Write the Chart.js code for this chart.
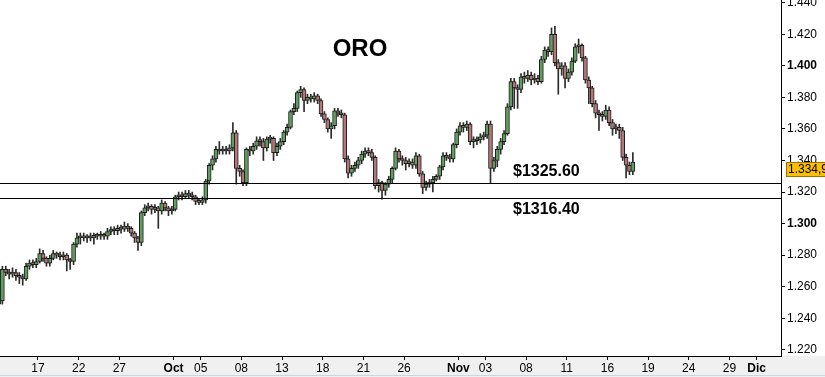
<!DOCTYPE html>
<html>
<head>
<meta charset="utf-8">
<script src="https://cdn.jsdelivr.net/npm/chart.js@4.4.0/dist/chart.umd.min.js"></script>
<style>
  html, body { margin: 0; padding: 0; background: #fff; }
  #wrap { width: 825px; height: 377px; position: relative; }
</style>
</head>
<body>
<div id="wrap"><canvas id="js-oro-chart"></canvas></div>
<script>
// velas de 6 horas (4 por día), desde el 14 sep hasta el 17 nov
const opens = [
  1249,1251,1271,1269, 1268,1269,1267,1266,
  1265,1273,1275,1274, 1276,1281,1278,1275,
  1278,1281,1280,1279, 1280,1277,1276,1287,
  1291,1292,1291,1292, 1291,1292.5,1292,1293,
  1292,1295,1296,1295.5, 1297,1296.5,1298.5,1297,
  1294,1291,1288,1307, 1310,1311,1309,1310,
  1308,1313,1310,1308, 1309,1317,1318,1317,
  1319,1318,1317,1314, 1313.5,1315,1327,1337,
  1341,1347,1346,1347, 1346,1348,1357.5,1335,
  1333,1326,1347,1346, 1349,1352.5,1352,1348,
  1353.5,1354,1345,1349, 1352,1358,1361,1371,
  1373,1383,1385,1378, 1380,1379,1381,1378,
  1369.5,1366,1360,1362, 1371.5,1370,1369,1341,
  1332,1335,1337,1340, 1344,1346,1345,1342,
  1324,1326,1321,1325, 1328,1335,1346,1341,
  1340,1338,1339,1337, 1343,1331.5,1323,1325,
  1326,1328,1330,1336, 1343,1342,1341,1350,
  1358,1362,1361,1363, 1352,1352.5,1353,1355,
  1356,1363,1335,1340, 1347,1352,1357,1374,
  1390,1386,1385,1393, 1392,1394,1391,1392,
  1390,1404,1410,1409, 1420,1402,1398,1400,
  1392,1396,1403,1412, 1413,1405,1391,1386,
  1376,1370,1369,1368, 1372,1364,1360,1361,
  1359,1342,1337,1333
];
const highs = [
  1253,1273,1273,1271, 1272,1271,1269,1268,
  1275,1277,1277,1278, 1284,1283,1279,1280,
  1283,1282,1282,1282, 1281,1278,1288,1294,
  1294,1294,1293,1294, 1294,1294,1295,1294,
  1297,1298,1298,1299, 1299,1301,1300,1298,
  1295,1292,1308,1312, 1313,1312,1312,1311,
  1315,1314,1311,1311, 1318,1320,1320,1321,
  1321,1320,1318,1316, 1317,1328,1338,1343,
  1349,1352,1349,1349, 1350,1364,1359,1337,
  1334,1348,1349,1351, 1355,1355,1354,1355,
  1356,1355,1351,1354, 1359,1363,1372,1376,
  1384,1387,1386,1382, 1382,1383,1382,1379,
  1371,1367,1364,1373, 1373,1372,1370,1343,
  1337,1339,1342,1346, 1348,1348,1347,1343,
  1328,1327,1326,1330, 1336,1348,1347,1343,
  1342,1341,1341,1345, 1344,1333,1327,1328,
  1330,1331,1337,1345, 1345,1344,1351,1360,
  1364,1364,1365,1364, 1355,1355,1357,1358,
  1365,1365,1342,1349, 1354,1359,1376,1392,
  1392,1388,1395,1396, 1397,1396,1395,1394,
  1406,1412,1412,1424, 1425,1404,1402,1402,
  1398,1405,1414,1417, 1414,1406,1393,1387,
  1378,1372,1371,1375, 1374,1366,1363,1363,
  1361,1344,1339,1345
];
const lows = [
  1247,1249,1267,1265, 1266,1264,1262,1261,
  1264,1271,1272,1272, 1275,1276,1273,1273,
  1277,1278,1277,1277, 1270,1271,1274,1285,
  1287,1289,1288,1289, 1287,1290,1290,1290,
  1290,1293,1293,1293, 1294,1295,1295,1292,
  1288,1283,1286,1305, 1308,1306,1307,1297,
  1306,1308,1305,1306, 1308,1315,1315,1316,
  1316,1315,1312,1312, 1312,1313,1325,1334,
  1339,1344,1344,1344, 1344,1346,1325,1330,
  1324,1324,1343,1344, 1347,1349,1340,1346,
  1351,1340,1343,1347, 1350,1356,1360,1369,
  1371,1380,1371,1376, 1377,1377,1376,1368,
  1364,1358,1354,1360, 1368,1367,1339,1329,
  1330,1333,1335,1338, 1342,1343,1340,1322,
  1320,1315.5,1318,1323, 1326,1334,1339,1337,
  1334,1336,1335,1335, 1330,1319,1321,1323,
  1320,1327,1328,1334, 1340,1339,1339,1348,
  1356,1358,1359,1350, 1348,1350,1351,1353,
  1354,1326,1333,1336, 1344,1350,1356,1372,
  1373,1373,1383,1389, 1390,1388,1389,1388,
  1389,1402,1406,1407, 1400,1382,1394,1386,
  1390,1394,1402,1408, 1403,1389,1376,1374,
  1367,1359,1365,1366, 1362,1356,1357,1354,
  1340,1329,1331,1331
];
const closes = [
  1251,1271,1269,1268, 1269,1267,1266,1265,
  1273,1275,1274,1276, 1281,1278,1275,1278,
  1281,1280,1279,1280, 1277,1276,1287,1291,
  1292,1291,1292,1291, 1292.5,1292,1293,1292,
  1295,1296,1295.5,1297, 1296.5,1298.5,1297,1294,
  1291,1288,1307,1310, 1311,1309,1310,1308,
  1313,1310,1308,1309, 1317,1318,1317,1319,
  1318,1317,1314,1313.5, 1315,1327,1337,1341,
  1347,1346,1347,1346, 1348,1357.5,1335,1333,
  1326,1347,1346,1349, 1352.5,1352,1348,1353.5,
  1354,1345,1349,1352, 1358,1361,1371,1373,
  1383,1385,1378,1380, 1379,1381,1378,1369.5,
  1366,1360,1362,1371.5, 1370,1369,1341,1332,
  1335,1337,1340,1344, 1346,1345,1342,1324,
  1326,1321,1325,1328, 1335,1346,1341,1340,
  1338,1339,1337,1343, 1331.5,1323,1325,1326,
  1328,1330,1336,1343, 1342,1341,1350,1358,
  1362,1361,1363,1352, 1352.5,1353,1355,1356,
  1363,1335,1340,1347, 1352,1357,1374,1390,
  1386,1385,1393,1392, 1394,1391,1392,1390,
  1404,1410,1409,1420, 1402,1398,1400,1392,
  1396,1403,1412,1413, 1405,1391,1386,1376,
  1370,1369,1368,1372, 1364,1360,1361,1359,
  1342,1337,1333,1339
];

// eje X: día hábil (desde 14 sep = 0) y su etiqueta
const dayTicks = [3, 6, 9, 13, 15, 18, 21, 24, 27, 30, 34, 36, 39, 42, 45, 48, 51, 54, 56];
const dayLabels = ['17', '22', '27', 'Oct', '05', '08', '13', '18', '21', '26', 'Nov', '03', '08', '11', '16', '19', '24', '29', 'Dic'];
const monthLabels = ['Oct', 'Nov', 'Dic'];

// eje Y
const priceTicks = [1220, 1230, 1240, 1250, 1260, 1270, 1280, 1290, 1300, 1310, 1320, 1330, 1340, 1350, 1360, 1370, 1380, 1390, 1400, 1410, 1420, 1430, 1440];

// soportes y último precio
const supportLevels = [1325.60, 1316.40];
const supportLabels = ['$1325.60', '$1316.40'];
const lastPrice = 1334.9;
const lastPriceLabel = '1.334,9';

const FONT = '"Liberation Sans", Arial, sans-serif';
const slots = closes.map((_, i) => i);

function fmtPrice(v) {
  return Math.floor(v / 1000) + '.' + String(Math.round(v % 1000)).padStart(3, '0');
}

// fondo gris del eje X
const background = {
  id: 'background',
  beforeDraw(chart) {
    const { ctx, chartArea } = chart;
    ctx.save();
    ctx.fillStyle = '#ffffff';
    ctx.fillRect(0, 0, chart.width, chart.height);
    ctx.fillStyle = '#f0f0f0';
    ctx.fillRect(0, chartArea.bottom, chart.width, chart.height - chartArea.bottom);
    ctx.fillStyle = '#c9d6e3';
    ctx.fillRect(0, chart.height - 2, chart.width, 1);
    ctx.restore();
  }
};

// líneas de soporte y textos
const overlay = {
  id: 'overlay',
  afterDatasetsDraw(chart) {
    const { ctx, chartArea, scales: { y } } = chart;
    ctx.save();
    ctx.strokeStyle = '#000';
    ctx.lineWidth = 1;
    supportLevels.forEach((v) => {
      const py = Math.round(y.getPixelForValue(v)) + 0.5;
      ctx.beginPath();
      ctx.moveTo(0, py);
      ctx.lineTo(chartArea.right, py);
      ctx.stroke();
    });

    ctx.fillStyle = '#000';
    ctx.textBaseline = 'middle';
    ctx.textAlign = 'center';
    ctx.font = 'bold 24px ' + FONT;
    ctx.fillText('ORO', 360, 49);

    ctx.textAlign = 'left';
    ctx.font = 'bold 16px ' + FONT;
    ctx.fillText(supportLabels[0], 513, 172);
    ctx.fillText(supportLabels[1], 513, 210);
    ctx.restore();
  },
  afterDraw(chart) {
    const { ctx, chartArea, scales: { y } } = chart;
    const py = Math.round(y.getPixelForValue(lastPrice));
    ctx.save();
    ctx.fillStyle = '#fbbf0a';
    ctx.fillRect(chartArea.right + 5, py - 7, 60, 15);
    ctx.strokeStyle = '#a07000';
    ctx.strokeRect(chartArea.right + 5.5, py - 6.5, 60, 14);
    ctx.fillStyle = '#000';
    ctx.font = '12px ' + FONT;
    ctx.textBaseline = 'middle';
    ctx.fillText(lastPriceLabel, chartArea.right + 7, py + 1);
    ctx.restore();
  }
};

const ctx = document.getElementById('js-oro-chart').getContext('2d');

new Chart(ctx, {
  type: 'bar',
  data: {
    datasets: [
      {
        label: 'cuerpo',
        data: slots.map((i) => ({ x: i, y: [opens[i], closes[i]] })),
        backgroundColor: slots.map((i) => closes[i] >= opens[i] ? '#5f9e5f' : '#b27777'),
        borderColor: '#1c1c1c',
        borderWidth: 1,
        borderSkipped: false,
        barThickness: 4,
        minBarLength: 2,
        grouped: false,
        order: 0
      },
      {
        label: 'mecha',
        data: slots.map((i) => ({ x: i, y: [lows[i], highs[i]] })),
        backgroundColor: '#2b2b2b',
        borderWidth: 0,
        barThickness: 1,
        grouped: false,
        order: 1
      }
    ]
  },
  options: {
    responsive: true,
    maintainAspectRatio: false,
    animation: false,
    layout: { padding: 0 },
    plugins: {
      legend: { display: false },
      tooltip: { enabled: false }
    },
    scales: {
      x: {
        type: 'linear',
        min: 0.3,
        max: 230.7,
        offset: false,
        grid: { drawOnChartArea: false, offset: false, tickLength: 4, color: '#000' },
        border: { display: true, color: '#000', width: 1 },
        afterBuildTicks(scale) {
          scale.ticks = dayTicks.map((d) => ({ value: d * 4 - 0.5 }));
        },
        afterFit(scale) {
          scale.height = 21;
          scale.paddingLeft = 0;
          scale.paddingRight = 0;
        },
        ticks: {
          autoSkip: false,
          maxRotation: 0,
          minRotation: 0,
          padding: 1,
          color: '#000',
          callback: (value, index) => dayLabels[index],
          font: (c) => ({
            family: FONT,
            size: 12,
            weight: c.index !== undefined && monthLabels.includes(dayLabels[c.index]) ? 'bold' : 'normal'
          })
        }
      },
      y: {
        type: 'linear',
        position: 'right',
        min: 1216.1,
        max: 1441.7,
        grid: { drawOnChartArea: false, tickLength: 4, color: '#000' },
        border: { display: true, color: '#000', width: 1 },
        afterBuildTicks(scale) {
          scale.ticks = priceTicks.map((v) => ({ value: v }));
        },
        afterFit(scale) {
          scale.width = 44;
          scale.paddingTop = 0;
          scale.paddingBottom = 0;
        },
        ticks: {
          padding: 2,
          color: '#000',
          callback: (value) => value % 20 === 0 ? fmtPrice(value) : '',
          font: (c) => ({
            family: FONT,
            size: 12,
            weight: c.tick && c.tick.value % 100 === 0 ? 'bold' : 'normal'
          })
        }
      }
    }
  },
  plugins: [background, overlay]
});
</script>
</body>
</html>
